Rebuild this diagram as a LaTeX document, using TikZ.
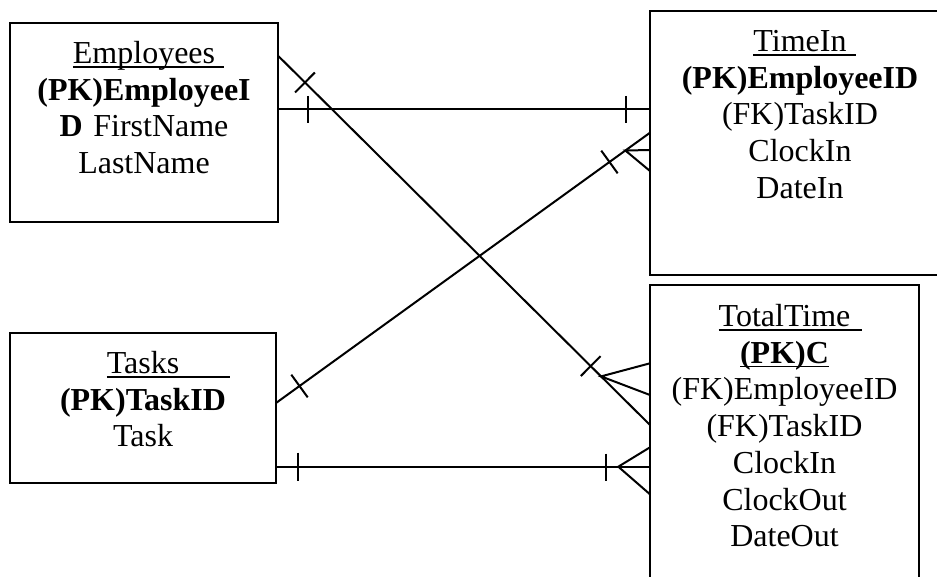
\documentclass[tikz,border=0pt]{standalone}
\usepackage{fontspec}
\setmainfont{Liberation Serif}
\usetikzlibrary{calc}

% underlined table title: rule of given length starting at the word, word keeps its own width
\newcommand\titleline[2]{\leavevmode\rlap{\rule[-4pt]{#1}{1.5pt}}#2}
% fixes the height of the first line so the baseline sits at a known depth
\newcommand\firstline{\rule{0pt}{28pt}}

\tikzset{
  table/.style={draw, line width=2.4pt, rectangle, anchor=north west,
    inner sep=0pt, outer sep=0pt},
  fields/.style={anchor=north, inner sep=0pt, outer sep=0pt, align=center,
    font=\fontsize{32}{36.7}\selectfont},
  rel/.style={line width=2pt},
  tickmark/.style={line width=2pt},
}

\begin{document}
\begin{tikzpicture}[x=1pt, y=-1pt]
\useasboundingbox (0,0) rectangle (937,576);
\clip (0,0) rectangle (937,576);

% tables
\node[table, minimum width=268pt, minimum height=199pt] (emp) at (10,23) {};
\node[table, minimum width=300pt, minimum height=264pt] (timein) at (650,11) {};
\node[table, minimum width=266pt, minimum height=150pt] (tasks) at (10,333) {};
\node[table, minimum width=269pt, minimum height=320pt] (total) at (650,285) {};

% field lists
\node[fields, text width=268pt] (empF) at ($(emp.north)+(0,12.5)$)
  {\firstline\titleline{151pt}{Employees}\\
   \textbf{(PK)EmployeeI}\\
   \textbf{D} FirstName\\
   LastName};
\node[fields, text width=300pt] (timeinF) at ($(timein.north)+(0,12.5)$)
  {\firstline\titleline{103pt}{TimeIn}\\
   \textbf{(PK)EmployeeID}\\
   (FK)TaskID\\
   ClockIn\\
   DateIn};
\node[fields, text width=266pt] (tasksF) at ($(tasks.north)+(0,12.5)$)
  {\firstline\titleline{123pt}{Tasks}\\
   \textbf{(PK)TaskID}\\
   Task};
\node[fields, text width=269pt] (totalF) at ($(total.north)+(0,13.5)$)
  {\firstline\titleline{143pt}{TotalTime}\\
   \titleline{89pt}{\textbf{(PK)C}}\\
   (FK)EmployeeID\\
   (FK)TaskID\\
   ClockIn\\
   ClockOut\\
   DateOut};

% Employees -- TimeIn (one to one)
\coordinate (e1) at ($(emp.north east)+(0,86.3)$);
\coordinate (t1) at (e1 -| timein.west);
\draw[rel] (e1) -- (t1);
\draw[tickmark] ($(e1)+(30,-13.5)$) -- ++(0,27);
\draw[tickmark] ($(t1)+(-24,-13.5)$) -- ++(0,27);

% Employees -- TotalTime (one to many)
\coordinate (e2) at ($(emp.north east)+(0,32.7)$);
\coordinate (o2) at ($(total.north west)+(0,140)$);
\draw[rel] (e2) -- (o2);
\coordinate (k2a) at ($(e2)!38pt!(o2)$);
\draw[tickmark] ($(k2a)!14pt!90:(o2)$) -- ($(k2a)!14pt!-90:(o2)$);
\coordinate (k2b) at ($(o2)!83.6pt!(e2)$);
\draw[tickmark] ($(k2b)!14pt!90:(e2)$) -- ($(k2b)!14pt!-90:(e2)$);
\coordinate (v2) at ($(o2)!69pt!(e2)$);
\draw[rel] ($(total.north west)+(0,78.3)$) -- (v2) -- ($(total.north west)+(0,110)$);

% Tasks -- TimeIn (one to many)
\coordinate (s3) at ($(tasks.north east)+(0,70)$);
\coordinate (t3) at ($(timein.north west)+(0,121.7)$);
\draw[rel] (s3) -- (t3);
\coordinate (k3a) at ($(s3)!29pt!(t3)$);
\draw[tickmark] ($(k3a)!14pt!90:(t3)$) -- ($(k3a)!14pt!-90:(t3)$);
\coordinate (k3b) at ($(t3)!50pt!(s3)$);
\draw[tickmark] ($(k3b)!14pt!90:(s3)$) -- ($(k3b)!14pt!-90:(s3)$);
\coordinate (v3) at ($(t3)!30.4pt!(s3)$);
\draw[rel] ($(timein.north west)+(0,139)$) -- (v3) -- ($(timein.north west)+(0,160)$);

% Tasks -- TotalTime (one to many)
\coordinate (s4) at ($(tasks.north east)+(0,133.7)$);
\coordinate (o4) at (s4 -| total.west);
\draw[rel] (s4) -- (o4);
\draw[tickmark] ($(s4)+(22,-14)$) -- ++(0,28);
\draw[tickmark] ($(o4)+(-44,-13)$) -- ++(0,27);
\coordinate (v4) at ($(o4)+(-31.7,0)$);
\draw[rel] ($(o4)+(0,-19.4)$) -- (v4) -- ($(o4)+(0,27.6)$);
\end{tikzpicture}
\end{document}
